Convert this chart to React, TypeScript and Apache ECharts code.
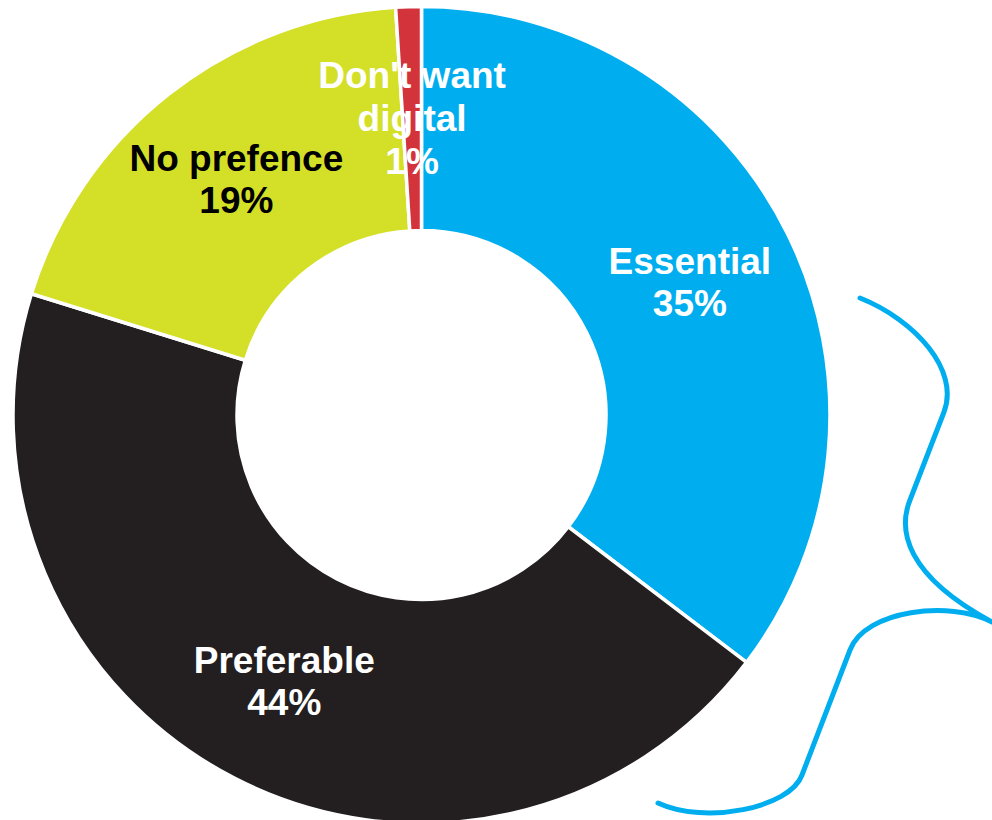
import React, { useEffect, useRef } from "react";
import * as echarts from "echarts";

const categories = ["Essential", "Preferable", "No prefence", "Don't want\ndigital"];
const values = [35, 44, 19, 1];
const sliceColors = ["#00AEEF", "#231F20", "#D4DF27", "#D3333B"];
const labelColors = ["#FFFFFF", "#FFFFFF", "#000000", "#FFFFFF"];

const BRACE_PATH =
  "M 860 298 C 915 320 960 370 944 412 L 910 500 C 898 530 905 575 992 622 " +
  "M 992 622 C 950 600 865 610 850 650 L 802 775 C 790 808 705 825 658 803";

const CX = 421.5;
const CY = 415;
const R0 = 184.5;
const R1 = 408.5;
const FONT = "Liberation Sans, Arial, sans-serif";

let braceRegistered = false;
function registerBrace() {
  if (braceRegistered) return;
  echarts.graphic.registerShape("brace", echarts.graphic.extendPath(BRACE_PATH, {}) as any);
  braceRegistered = true;
}

export default function App() {
  const ref = useRef<HTMLDivElement>(null);
  useEffect(() => {
    if (!ref.current) return;
    registerBrace();
    const chart = echarts.init(ref.current, undefined, { renderer: "svg" });
    const total = values.reduce((a, b) => a + b, 0);
    const smallIdx = 3;
    const before = values.slice(0, smallIdx).reduce((a, b) => a + b, 0);
    const midFrac = (before + values[smallIdx] / 2) / total;
    const theta = ((90 - midFrac * 360) * Math.PI) / 180;
    const rMid = (R0 + R1) / 2;
    const sx = CX + rMid * Math.cos(theta);
    const sy = CY - rMid * Math.sin(theta);

    const data = categories.map((name, i) => ({
      name,
      value: values[i],
      itemStyle: { color: sliceColors[i] },
      label: { color: labelColors[i], show: i !== smallIdx },
    }));
    chart.setOption({
      animation: false,
      backgroundColor: "#FFFFFF",
      series: [
        {
          type: "pie",
          center: [CX, CY],
          radius: [R0, R1],
          startAngle: 90,
          clockwise: true,
          avoidLabelOverlap: false,
          silent: true,
          itemStyle: { borderColor: "#FFFFFF", borderWidth: 3.5 },
          label: {
            show: true,
            position: "inside",
            fontFamily: FONT,
            fontWeight: "bold",
            fontSize: 37,
            lineHeight: 42,
            align: "center",
            formatter: (p: any) => `${p.name}\n${p.value}%`,
          },
          labelLine: { show: false },
          emphasis: { disabled: true },
          data,
        },
      ],
      graphic: [
        {
          type: "brace",
          x: 0,
          y: 0,
          silent: true,
          style: {
            fill: "none",
            stroke: "#00AEEF",
            lineWidth: 5,
            lineCap: "round",
            lineJoin: "round",
          },
        },
        {
          type: "text",
          x: sx,
          y: sy,
          silent: true,
          z: 100,
          style: {
            text: `${categories[smallIdx]}\n${values[smallIdx]}%`,
            fill: labelColors[smallIdx],
            font: `bold 37px ${FONT}`,
            lineHeight: 43,
            align: "center",
            verticalAlign: "middle",
          },
        },
      ],
    });
    return () => chart.dispose();
  }, []);
  return (
    <div
      ref={ref}
      style={{ position: "absolute", left: 0, top: 0, width: 992, height: 820 }}
    />
  );
}
